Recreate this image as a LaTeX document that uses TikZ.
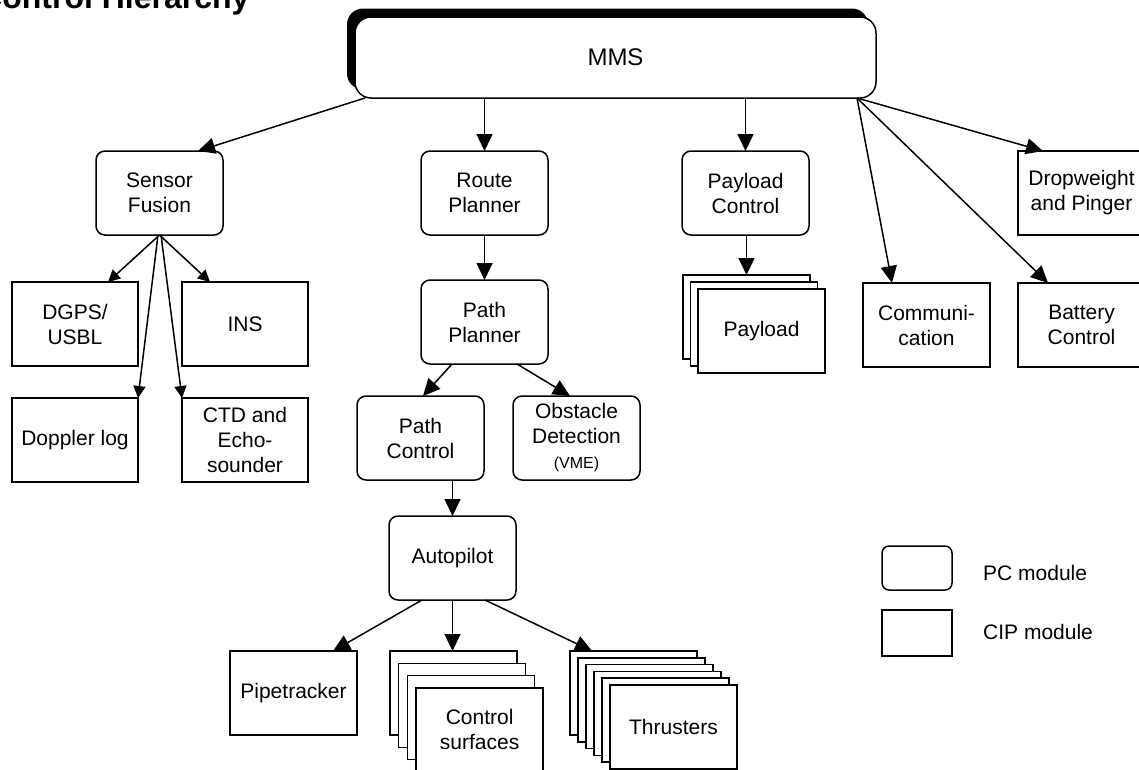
\documentclass[tikz,border=0pt]{standalone}
\usepackage{fontspec}
\setmainfont{Liberation Sans}
\usetikzlibrary{arrows.meta}
\begin{document}
\begin{tikzpicture}[x=1pt,y=-1pt,
  box/.style={draw, line width=1.5pt, fill=white, minimum width=127pt, minimum height=84pt,
    inner sep=0pt, outer sep=0pt, align=center, font=\fontsize{21}{25}\selectfont},
  pcbox/.style={box, rounded corners=9pt},
  arr/.style={line width=1.5pt, -{Triangle[length=17pt,width=16pt]}},
  sarr/.style={line width=1.5pt, -{Triangle[length=12pt,width=12pt]}},
  lbl/.style={anchor=west, inner sep=0pt, font=\fontsize{21}{25}\selectfont},
]
\useasboundingbox (0,0) rectangle (1139,769);

% title (cut at the top edge)
\node[anchor=base west, inner sep=0pt, font=\fontsize{32}{32}\bfseries\selectfont] (title) at (-21,8) {Control Hierarchy};

% MMS with shadow
\node[fill=black, rounded corners=16pt, minimum width=521pt, minimum height=81pt, inner sep=0pt] (mmsshadow) at (607.5,49) {};
\node[draw, line width=1.5pt, fill=white, rounded corners=16pt, minimum width=521pt, minimum height=81pt,
  inner sep=0pt, outer sep=0pt, font=\fontsize{24}{28}\selectfont] (mms) at (615.5,57.5) {MMS};

% level 1
\node[pcbox] (sf) at (159.5,193) {Sensor\\Fusion};
\node[pcbox] (route) at (484.5,193) {Route\\Planner};
\node[pcbox] (pc) at (745.5,193) {Payload\\Control};
\node[box] (drop) at (1081.5,193) {Dropweight\\and Pinger};

% sensor fusion children
\node[box, minimum width=126pt] (dgps) at (75,324) {DGPS/\\USBL};
\node[box, minimum width=126pt] (ins) at (245,324) {INS};
\node[box, minimum width=126pt] (doppler) at (75,440) {Doppler log};
\node[box, minimum width=126pt] (ctd) at (245,440) {CTD and\\Echo-\\sounder};

% planner chain
\node[pcbox] (pp) at (484.5,322) {Path\\Planner};
\node[pcbox] (pctl) at (420.5,438) {Path\\Control};
\node[pcbox] (obst) at (576.5,438) {Obstacle\\Detection\\{\fontsize{16}{18}\selectfont(VME)}};
\node[pcbox] (auto) at (452.5,558) {Autopilot};

% payload stack
\node[box] (pay1) at (746.5,317) {};
\node[box] (pay2) at (754,324) {};
\node[box] (pay3) at (761.5,331) {Payload};

\node[box] (comm) at (926.5,325) {Communi-\\cation};
\node[box] (batt) at (1081.5,325) {Battery\\Control};

% autopilot children
\node[box] (pipe) at (293.5,693) {Pipetracker};
\node[box] (cs1) at (453.5,693) {};
\node[box] (cs2) at (462.2,705.3) {};
\node[box] (cs3) at (470.9,717.6) {};
\node[box] (cs4) at (479.6,729.9) {Control\\surfaces};

\node[box] (thr1) at (633.5,693) {};
\node[box] (thr2) at (641.5,699.8) {};
\node[box] (thr3) at (649.5,706.6) {};
\node[box] (thr4) at (657.5,713.4) {};
\node[box] (thr5) at (665.5,720.2) {};
\node[box] (thr6) at (673.5,727) {Thrusters};

% legend
\node[draw, line width=1.5pt, rounded corners=7pt, minimum width=70pt, minimum height=44pt, inner sep=0pt] (legpc) at (917,568) {};
\node[lbl] (legpct) at (983,573) {PC module};
\node[draw, line width=1.5pt, minimum width=70pt, minimum height=46pt, inner sep=0pt] (legcip) at (917,633) {};
\node[lbl] (legcipt) at (983,632) {CIP module};

% connectors
\draw[arr] ([xshift=10pt]mms.south west) -- ([xshift=38.5pt]sf.north);
\draw[arr] (mms.south -| route.north) -- (route.north);
\draw[arr] (mms.south -| pc.north) -- (pc.north);
\draw[arr] ([xshift=-19pt]mms.south east) -- ([xshift=-38.5pt]drop.north);
\draw[arr] ([xshift=-19pt]mms.south east) -- ([xshift=-34.5pt]comm.north);
\draw[arr] ([xshift=-19pt]mms.south east) -- ([xshift=-33.5pt]batt.north);

\draw[sarr] (sf.south) -- ([xshift=33pt]dgps.north);
\draw[sarr] (sf.south) -- ([xshift=-35pt]ins.north);
\draw[sarr] ([xshift=-1.5pt]sf.south) -- (doppler.north east);
\draw[sarr] ([xshift=1.5pt]sf.south) -- (ctd.north west);

\draw[arr] (route.south) -- (pp.north);
\draw[arr] ([xshift=-32.5pt]pp.south) -- ([xshift=2.5pt]pctl.north);
\draw[arr] ([xshift=32.5pt]pp.south) -- ([xshift=-6.5pt]obst.north);
\draw[arr] (pctl.south -| auto.north) -- (auto.north);
\draw[arr] (pc.south -| pay1.north) -- (pay1.north);

\draw[arr] ([xshift=-30.5pt]auto.south) -- ([xshift=39.5pt]pipe.north);
\draw[arr] (auto.south) -- (auto.south |- cs1.north);
\draw[arr] ([xshift=32.5pt]auto.south) -- ([xshift=-41.5pt]thr1.north);
\end{tikzpicture}
\end{document}
